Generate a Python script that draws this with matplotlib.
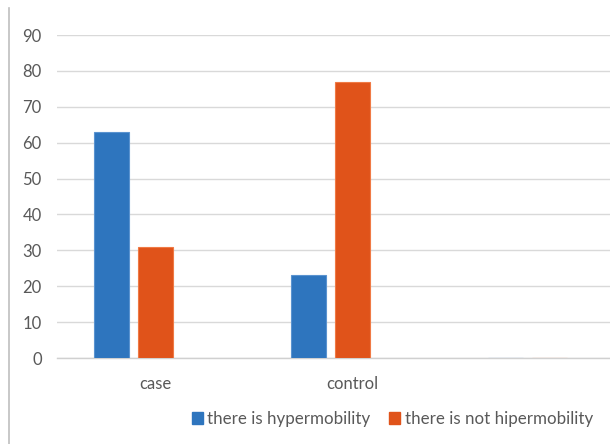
import matplotlib
matplotlib.use("Agg")
import matplotlib.pyplot as plt
from matplotlib.lines import Line2D
from matplotlib.patches import Patch
import numpy as np

categories = ["case", "control", ""]
series_names = ["there is hypermobility", "there is not hipermobility"]
hyper = [63, 23, 0]
not_hyper = [31, 77, 0]
yticks = [0, 10, 20, 30, 40, 50, 60, 70, 80, 90]

plt.rcParams['font.family'] = ['Lato', 'DejaVu Sans']
txt = '#595959'
blue = '#2E75BE'
orange = '#E0531A'

fig = plt.figure(figsize=(6.10, 4.44), dpi=100)
W, H = 610, 444
ax = fig.add_axes([57 / W, 1 - 358 / H, 591 / W, (358 - 35) / H])

x = np.arange(len(categories))
bw = 0.178
step = 0.223
ax.bar(x - step, hyper, bw, color=blue, edgecolor='#5A93D0', linewidth=0.8, zorder=3)
ax.bar(x, not_hyper, bw, color=orange, edgecolor='#F07A45', linewidth=0.8, zorder=3)

ax.set_xlim(-0.5, 2.5)
ax.set_ylim(0, 90)
ax.set_yticks(yticks)
ax.set_yticklabels([str(v) for v in yticks], fontsize=12, color=txt)
ax.set_xticks(x)
ax.set_xticklabels(categories, fontsize=12, color=txt)
ax.tick_params(axis='both', length=0)
ax.tick_params(axis='y', pad=11)
ax.tick_params(axis='x', pad=13)
ax.grid(axis='y', color='#d9d9d9', linewidth=1.0, zorder=0)
for s in ['left', 'right', 'top']:
    ax.spines[s].set_visible(False)
ax.spines['bottom'].set_color('#d0d0d0')
ax.spines['bottom'].set_linewidth(1.0)

handles = [Patch(facecolor=blue, edgecolor=blue), Patch(facecolor=orange, edgecolor=orange)]
fig.legend(handles, series_names, loc='center', bbox_to_anchor=(392.5 / W, 1 - 419 / H),
           ncol=2, frameon=False, fontsize=12.2, labelcolor=txt,
           handlelength=0.65, handleheight=0.65, handletextpad=0.25, columnspacing=1.1,
           borderpad=0, borderaxespad=0)

# chart border on the left
fig.add_artist(Line2D([8.5 / W, 8.5 / W], [0, 1 - 8 / H], color='#bfbfbf', linewidth=1.2,
                      transform=fig.transFigure))

fig.savefig("out.png", dpi=100)
